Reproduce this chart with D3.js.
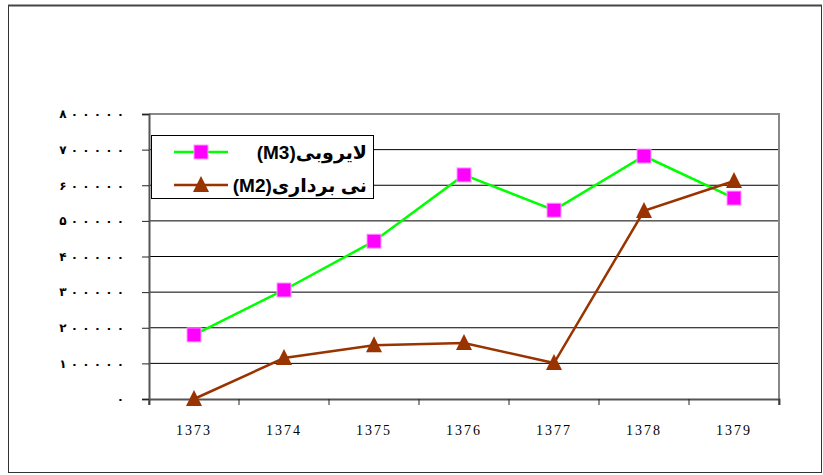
<!DOCTYPE html>
<html>
<head>
<meta charset="utf-8">
<script src="https://cdn.jsdelivr.net/npm/d3@7"></script>
<style>
  body { margin: 0; background: #fff; }
  svg { display: block; }
</style>
</head>
<body>
<div id="chart"></div>
<script>
const years = ["1373", "1374", "1375", "1376", "1377", "1378", "1379"];
const m3 = [180000, 306000, 443000, 629000, 530000, 682000, 564000];
const m2 = [0, 115000, 151000, 157000, 101000, 528000, 612000];
const yTicks = [0, 100000, 200000, 300000, 400000, 500000, 600000, 700000, 800000];
const seriesNames = ["لایروبی(M3)", "نی برداری(M2)"];

const width = 823, height = 475;
const plot = { left: 149, right: 779, top: 114, bottom: 399 };

const svg = d3.select("#chart").append("svg")
  .attr("width", width)
  .attr("height", height);

// outer frame
svg.append("rect")
  .attr("x", 8.5).attr("y", 5.5)
  .attr("width", 813).attr("height", 467)
  .attr("fill", "#fff")
  .attr("stroke", "#333")
  .attr("stroke-width", 1);
svg.append("line")
  .attr("x1", 8).attr("x2", 822).attr("y1", 5.5).attr("y2", 5.5)
  .attr("stroke", "#444").attr("stroke-width", 2);

const x = d3.scaleBand()
  .domain(years)
  .range([plot.left, plot.right])
  .padding(0);

const y = d3.scaleLinear()
  .domain([0, 800000])
  .range([plot.bottom, plot.top]);

// persian digits, spaced out like the original
const persian = n => String(n).split("").map(d => "۰۱۲۳۴۵۶۷۸۹"[+d]).join(" ");

// gridlines
svg.append("g")
  .selectAll("line")
  .data(yTicks.slice(1, -1))
  .join("line")
    .attr("x1", plot.left).attr("x2", plot.right)
    .attr("y1", d => y(d)).attr("y2", d => y(d))
    .attr("stroke", "#000")
    .attr("stroke-width", 1);

// plot border (top/right gray)
svg.append("path")
  .attr("d", `M${plot.left},${plot.top}H${plot.right}V${plot.bottom}`)
  .attr("fill", "none")
  .attr("stroke", "#888")
  .attr("stroke-width", 2);

// axes
const yAxis = g => g
  .attr("transform", `translate(${plot.left},0)`)
  .call(d3.axisLeft(y).tickValues(yTicks).tickSize(7).tickPadding(18).tickFormat(persian))
  .call(g => g.select(".domain").attr("stroke", "#555").attr("stroke-width", 2))
  .call(g => g.selectAll(".tick line").attr("stroke", "#222"))
  .call(g => g.selectAll(".tick text")
    .attr("font-family", "DejaVu Sans")
    .attr("font-weight", "bold")
    .attr("font-size", 12)
    .attr("fill", "#000"));

const xAxis = g => g
  .attr("transform", `translate(0,${plot.bottom})`)
  .call(d3.axisBottom(x).tickSize(6).tickSizeOuter(6).tickPadding(0).tickFormat(() => ""))
  .call(g => g.select(".domain").attr("stroke", "#555").attr("stroke-width", 2))
  .call(g => g.selectAll(".tick line").remove());

svg.append("g").call(xAxis);

// boundary ticks on x axis
svg.append("g")
  .selectAll("line")
  .data(years.concat(["end"]))
  .join("line")
    .attr("x1", (d, i) => plot.left + i * x.bandwidth())
    .attr("x2", (d, i) => plot.left + i * x.bandwidth())
    .attr("y1", plot.bottom).attr("y2", plot.bottom + 6)
    .attr("stroke", "#222");

svg.append("g")
  .selectAll("text")
  .data(years)
  .join("text")
    .attr("x", d => x(d) + x.bandwidth() / 2)
    .attr("y", 435)
    .attr("text-anchor", "middle")
    .attr("font-family", "Liberation Serif")
    .attr("font-size", 14)
    .attr("letter-spacing", "2px")
    .text(d => d);

svg.append("g").call(yAxis);

const cx = d => x(d) + x.bandwidth() / 2;
const line = vals => d3.line()
  .x((d, i) => cx(years[i]))
  .y(d => y(d))(vals);

const triangle = "M0,-9L8,7L-8,7Z";

// M3 series
svg.append("path")
  .attr("d", line(m3))
  .attr("fill", "none")
  .attr("stroke", "#00ff00")
  .attr("stroke-width", 2.5);

// M2 series
svg.append("path")
  .attr("d", line(m2))
  .attr("fill", "none")
  .attr("stroke", "#993300")
  .attr("stroke-width", 2.5);

svg.append("g")
  .selectAll("rect")
  .data(m3)
  .join("rect")
    .attr("x", (d, i) => cx(years[i]) - 7)
    .attr("y", d => y(d) - 7)
    .attr("width", 14).attr("height", 14)
    .attr("fill", "#ff00ff")
    .attr("stroke", "#ff99ff")
    .attr("stroke-width", 1);

svg.append("g")
  .selectAll("path")
  .data(m2)
  .join("path")
    .attr("transform", (d, i) => `translate(${cx(years[i])},${y(d)})`)
    .attr("d", triangle)
    .attr("fill", "#993300");

// legend
const legend = svg.append("g");
legend.append("rect")
  .attr("x", 151.5).attr("y", 135.5)
  .attr("width", 222).attr("height", 63)
  .attr("fill", "#fff")
  .attr("stroke", "#000");

const legendRows = [
  { name: seriesNames[0], color: "#00ff00", marker: "square", y: 152 },
  { name: seriesNames[1], color: "#993300", marker: "triangle", y: 185 }
];

legendRows.forEach(r => {
  legend.append("line")
    .attr("x1", 174).attr("x2", 228)
    .attr("y1", r.y).attr("y2", r.y)
    .attr("stroke", r.color).attr("stroke-width", 2.5);
  if (r.marker === "square") {
    legend.append("rect")
      .attr("x", 194).attr("y", r.y - 7)
      .attr("width", 14).attr("height", 14)
      .attr("fill", "#ff00ff")
      .attr("stroke", "#ff99ff");
  } else {
    legend.append("path")
      .attr("transform", `translate(201,${r.y})`)
      .attr("d", triangle)
      .attr("fill", "#993300");
  }
  legend.append("text")
    .attr("x", 367).attr("y", r.y)
    .attr("dy", "0.35em")
    .attr("direction", "rtl")
    .attr("text-anchor", "start")
    .attr("font-family", "Liberation Sans, DejaVu Sans")
    .attr("font-weight", "bold")
    .attr("font-size", 19)
    .text(r.name);
});
</script>
</body>
